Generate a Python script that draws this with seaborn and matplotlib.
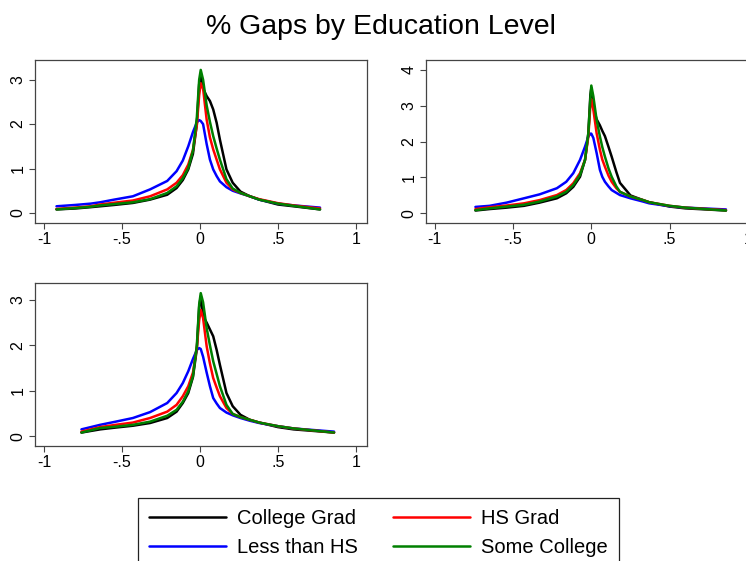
import matplotlib
matplotlib.use("Agg")
import matplotlib.pyplot as plt
from matplotlib.lines import Line2D
import seaborn as sns

# series names / colours
groups = ["College Grad", "HS Grad", "Less than HS", "Some College"]
colors = {"College Grad": "#000000", "HS Grad": "#ff0000",
          "Less than HS": "#0000ff", "Some College": "#008000"}

# panel 1 (top left)
x1 = [-0.92, -0.8, -0.7, -0.64, -0.55, -0.43, -0.32, -0.21, -0.15, -0.11, -0.075,
      -0.045, -0.02, -0.005, 0.005, 0.02, 0.043, 0.064, 0.085, 0.107, 0.128, 0.17,
      0.21, 0.26, 0.32, 0.38, 0.5, 0.6, 0.77]
p1_college = [0.08, 0.1, 0.13, 0.15, 0.18, 0.225, 0.3, 0.41, 0.56, 0.74, 0.98,
              1.33, 2.0, 2.9, 3.1, 2.8, 2.63, 2.52, 2.33, 2.03, 1.65, 0.98,
              0.68, 0.48, 0.375, 0.3, 0.19, 0.15, 0.08]
p1_hs = [0.09, 0.12, 0.15, 0.19, 0.23, 0.28, 0.375, 0.53, 0.68, 0.85, 1.09,
         1.42, 1.98, 2.65, 2.92, 2.8, 2.1, 1.7, 1.43, 1.2, 0.98, 0.68,
         0.53, 0.45, 0.375, 0.31, 0.22, 0.17, 0.1]
p1_less = [0.15, 0.18, 0.21, 0.24, 0.3, 0.375, 0.53, 0.72, 0.94, 1.18, 1.5,
           1.82, 2.04, 2.09, 2.07, 2.0, 1.55, 1.2, 0.98, 0.83, 0.71, 0.58,
           0.5, 0.44, 0.375, 0.3, 0.21, 0.17, 0.12]
p1_some = [0.08, 0.11, 0.14, 0.17, 0.2, 0.24, 0.31, 0.45, 0.6, 0.78, 1.01,
           1.4, 2.15, 3.0, 3.22, 3.0, 2.42, 2.05, 1.73, 1.45, 1.2, 0.76,
           0.55, 0.45, 0.375, 0.3, 0.21, 0.16, 0.08]

# panel 2 (top right)
x2 = [-0.74, -0.65, -0.54, -0.43, -0.33, -0.22, -0.16, -0.115, -0.072, -0.04,
      -0.019, -0.006, 0.0, 0.013, 0.034, 0.055, 0.07, 0.087, 0.11, 0.13, 0.16,
      0.183, 0.25, 0.33, 0.37, 0.5, 0.6, 0.86]
p2_college = [0.08, 0.12, 0.16, 0.21, 0.3, 0.42, 0.56, 0.74, 1.02, 1.49,
              2.23, 3.3, 3.49, 2.95, 2.62, 2.45, 2.3, 2.15, 1.85, 1.58, 1.15,
              0.85, 0.5, 0.37, 0.31, 0.19, 0.14, 0.08]
p2_hs = [0.12, 0.17, 0.22, 0.28, 0.37, 0.51, 0.65, 0.84, 1.12, 1.49,
         2.14, 3.0, 3.18, 2.89, 2.23, 1.77, 1.5, 1.3, 1.05, 0.88, 0.7,
         0.6, 0.47, 0.37, 0.31, 0.21, 0.16, 0.09]
p2_less = [0.18, 0.21, 0.3, 0.42, 0.53, 0.7, 0.88, 1.12, 1.49, 1.86,
           2.14, 2.22, 2.22, 2.1, 1.68, 1.21, 1.02, 0.88, 0.75, 0.65, 0.57,
           0.51, 0.42, 0.33, 0.28, 0.2, 0.16, 0.11]
p2_some = [0.09, 0.14, 0.19, 0.24, 0.33, 0.47, 0.6, 0.79, 1.07, 1.49,
           2.23, 3.2, 3.56, 3.26, 2.6, 2.14, 1.85, 1.58, 1.25, 1.02, 0.75,
           0.6, 0.47, 0.37, 0.31, 0.21, 0.16, 0.08]

# panel 3 (bottom left)
x3 = [-0.76, -0.64, -0.54, -0.43, -0.32, -0.21, -0.15, -0.11, -0.075, -0.045,
      -0.02, -0.005, 0.005, 0.02, 0.043, 0.064, 0.085, 0.107, 0.128, 0.17,
      0.21, 0.26, 0.32, 0.38, 0.5, 0.6, 0.86]
p3_college = [0.08, 0.15, 0.19, 0.23, 0.29, 0.4, 0.54, 0.73, 0.95, 1.3,
              1.92, 2.85, 3.08, 2.64, 2.5, 2.35, 2.2, 1.9, 1.57, 0.95,
              0.66, 0.47, 0.36, 0.3, 0.2, 0.15, 0.08]
p3_hs = [0.1, 0.2, 0.25, 0.3, 0.4, 0.54, 0.69, 0.88, 1.1, 1.4,
         1.95, 2.55, 2.78, 2.6, 1.98, 1.6, 1.28, 1.07, 0.88, 0.62,
         0.49, 0.42, 0.36, 0.3, 0.22, 0.17, 0.08]
p3_less = [0.15, 0.25, 0.32, 0.4, 0.53, 0.73, 0.95, 1.17, 1.43, 1.7,
           1.9, 1.94, 1.92, 1.75, 1.4, 1.1, 0.84, 0.72, 0.62, 0.52,
           0.46, 0.4, 0.34, 0.29, 0.22, 0.17, 0.1]
p3_some = [0.08, 0.18, 0.21, 0.25, 0.32, 0.45, 0.58, 0.76, 0.99, 1.32,
           2.0, 2.9, 3.15, 2.95, 2.38, 2.0, 1.65, 1.37, 1.1, 0.69,
           0.49, 0.42, 0.36, 0.3, 0.22, 0.17, 0.08]

xticks = [-1, -0.5, 0, 0.5, 1]
xticklabels = ["-1", "-.5", "0", ".5", "1"]

sns.set_style("ticks")
plt.rcParams["font.family"] = ["Liberation Sans", "DejaVu Sans"]
plt.rcParams["text.color"] = "black"
plt.rcParams["xtick.color"] = "black"
plt.rcParams["ytick.color"] = "black"

fig = plt.figure(figsize=(7.46, 5.61), dpi=100)
fig.patch.set_facecolor("white")

panels = [
    ([0.0469, 0.603, 0.445, 0.2906], x1,
     {"College Grad": p1_college, "HS Grad": p1_hs, "Less than HS": p1_less, "Some College": p1_some},
     (-1.058, 1.071), (-0.22, 3.45), [0, 1, 2, 3]),
    ([0.5714, 0.603, 0.445, 0.2906], x2,
     {"College Grad": p2_college, "HS Grad": p2_hs, "Less than HS": p2_less, "Some College": p2_some},
     (-1.054, 1.066), (-0.26, 4.28), [0, 1, 2, 3, 4]),
    ([0.0469, 0.2055, 0.445, 0.2906], x3,
     {"College Grad": p3_college, "HS Grad": p3_hs, "Less than HS": p3_less, "Some College": p3_some},
     (-1.058, 1.071), (-0.21, 3.38), [0, 1, 2, 3]),
]

draw_order = ["College Grad", "Less than HS", "HS Grad", "Some College"]

for rect, xs, series, xlim, ylim, yticks in panels:
    ax = fig.add_axes(rect)
    for g in draw_order:
        sns.lineplot(x=xs, y=series[g], color=colors[g], linewidth=1.8,
                     sort=False, estimator=None, ax=ax)
    ax.set_xlim(xlim)
    ax.set_ylim(ylim)
    ax.set_xticks(xticks)
    ax.set_xticklabels(xticklabels)
    ax.set_yticks(yticks)
    ax.set_yticklabels([str(t) for t in yticks], rotation=90, va="center")
    ax.tick_params(labelsize=11.5, length=4, width=0.8, color="#444444",
                   labelcolor="black", pad=3)
    for s in ax.spines.values():
        s.set_visible(True)
        s.set_color("#444444")
        s.set_linewidth(0.9)
    ax.set_xlabel("")
    ax.set_ylabel("")

fig.text(0.511, 0.952, "% Gaps by Education Level", ha="center", va="center", fontsize=20.5)

labels = ["College Grad", "Less than HS", "HS Grad", "Some College"]
handles = [Line2D([], [], color=colors[g], linewidth=1.8) for g in labels]
leg = fig.legend(handles, labels, ncol=2, loc="upper left",
                 bbox_to_anchor=(0.172, 0.131), fontsize=14.5,
                 handlelength=3.8, handletextpad=0.55, columnspacing=1.75,
                 labelspacing=0.52, borderpad=0.55, fancybox=False,
                 edgecolor="#222222", framealpha=1)
leg.get_frame().set_linewidth(0.9)

fig.savefig("out.png", dpi=100)
